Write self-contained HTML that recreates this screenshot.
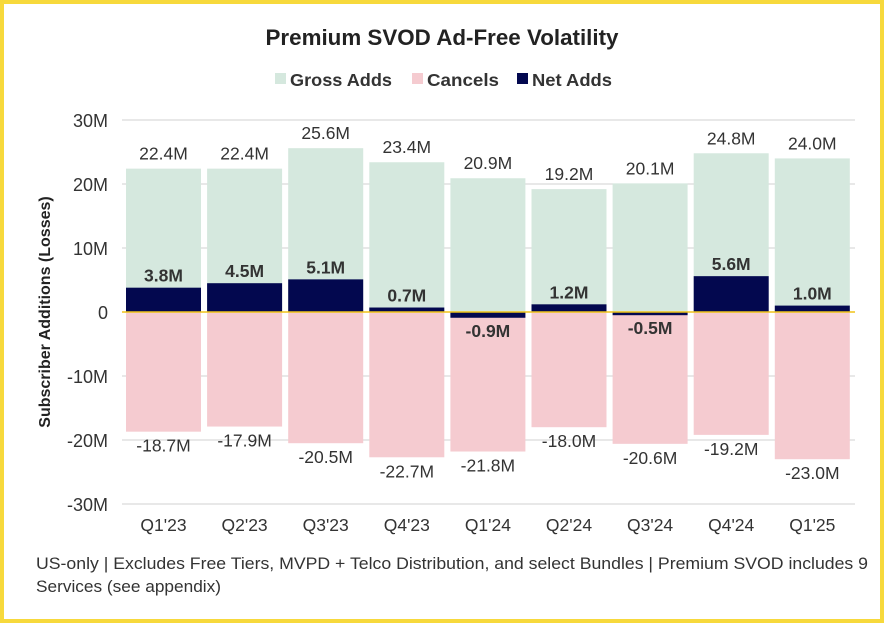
<!DOCTYPE html>
<html><head><meta charset="utf-8"><style>
body{margin:0;background:#fff;font-family:"Liberation Sans",sans-serif}
#frame{position:absolute;left:0;top:0;width:876px;height:615px;border:4px solid #f7d93c;background:#fff}
</style></head><body>
<div id="frame"></div>
<svg id="c" width="884" height="623" style="position:absolute;left:0;top:0"></svg>
<script>
const categories=["Q1'23","Q2'23","Q3'23","Q4'23","Q1'24","Q2'24","Q3'24","Q4'24","Q1'25"];
const grossAdds=[22.4,22.4,25.6,23.4,20.9,19.2,20.1,24.8,24.0];
const cancels=[-18.7,-17.9,-20.5,-22.7,-21.8,-18.0,-20.6,-19.2,-23.0];
const netAdds=[3.8,4.5,5.1,0.7,-0.9,1.2,-0.5,5.6,1.0];
const yTicks=[30,20,10,0,-10,-20,-30];
const NS="http://www.w3.org/2000/svg";
const svg=document.getElementById('c');
const y=v=>312-v*6.4;
const x0=v=>126+v*81.1, bw=75;
function el(t,a,txt){const e=document.createElementNS(NS,t);for(const k in a)e.setAttribute(k,a[k]);if(txt!==undefined)e.textContent=txt;svg.appendChild(e);return e;}
let t=el('text',{x:442,y:45,'text-anchor':'middle','font-size':22,'font-weight':'bold',fill:'#222',textLength:353,lengthAdjust:'spacingAndGlyphs'},'Premium SVOD Ad-Free Volatility');

const leg=[["Gross Adds","#d5e8de",275,102],["Cancels","#f5cbd0",412,72],["Net Adds","#03084f",517,80]];
leg.forEach(l=>{const g=el('g',{});
const r=document.createElementNS(NS,'rect');r.setAttribute('x',l[2]);r.setAttribute('y',73);r.setAttribute('width',11);r.setAttribute('height',11);r.setAttribute('fill',l[1]);g.appendChild(r);
const tx=document.createElementNS(NS,'text');tx.setAttribute('x',l[2]+15);tx.setAttribute('y',86);tx.setAttribute('font-size',17.5);tx.setAttribute('font-weight','bold');tx.setAttribute('fill','#333');tx.setAttribute('textLength',l[3]);tx.setAttribute('lengthAdjust','spacingAndGlyphs');tx.textContent=l[0];g.appendChild(tx);});
yTicks.forEach(v=>{if(v!==0){const gl=el('line',{x1:122,x2:855,y1:y(v),y2:y(v),stroke:'#d0d0d0','stroke-width':1});}
const tl=el('text',{x:108,y:y(v)+7,'text-anchor':'end','font-size':18,fill:'#333'},v===0?'0':v+'M');});
const yt=el('text',{transform:'translate(50,312) rotate(-90)','text-anchor':'middle','font-size':16,'font-weight':'bold',fill:'#222'},'Subscriber Additions (Losses)');

categories.forEach((c,i)=>{const x=x0(i),cx=x+bw/2;
let r=el('rect',{x:x,y:y(grossAdds[i]),width:bw,height:y(0)-y(grossAdds[i]),fill:'#d5e8de'});
r=el('rect',{x:x,y:y(0),width:bw,height:y(cancels[i])-y(0),fill:'#f5cbd0'});
const n=netAdds[i];r=el('rect',{x:x,y:Math.min(y(n),y(0)),width:bw,height:Math.abs(y(n)-y(0)),fill:'#03084f'});
let l=el('text',{x:cx,y:y(grossAdds[i])-9,'text-anchor':'middle','font-size':17.5,fill:'#333'},grossAdds[i].toFixed(1)+'M');
l=el('text',{x:cx,y:y(cancels[i])+20,'text-anchor':'middle','font-size':17.5,fill:'#333'},cancels[i].toFixed(1)+'M');
l=el('text',{x:cx,y:n>=0?y(n)-6:y(n)+19,'text-anchor':'middle','font-size':17.5,'font-weight':'bold',fill:'#333'},n.toFixed(1)+'M');
l=el('text',{x:cx,y:531,'text-anchor':'middle','font-size':17.5,fill:'#333'},c);});
const z=el('line',{x1:122,x2:855,y1:y(0),y2:y(0),stroke:'#f0c419','stroke-width':1.5});
const f1=el('text',{x:36,y:569,'font-size':17,fill:'#333',textLength:832,lengthAdjust:'spacingAndGlyphs'},'US-only | Excludes Free Tiers, MVPD + Telco Distribution, and select Bundles | Premium SVOD includes 9');

const f2=el('text',{x:36,y:592,'font-size':17,fill:'#333',textLength:185,lengthAdjust:'spacingAndGlyphs'},'Services (see appendix)');

</script>
</body></html>
